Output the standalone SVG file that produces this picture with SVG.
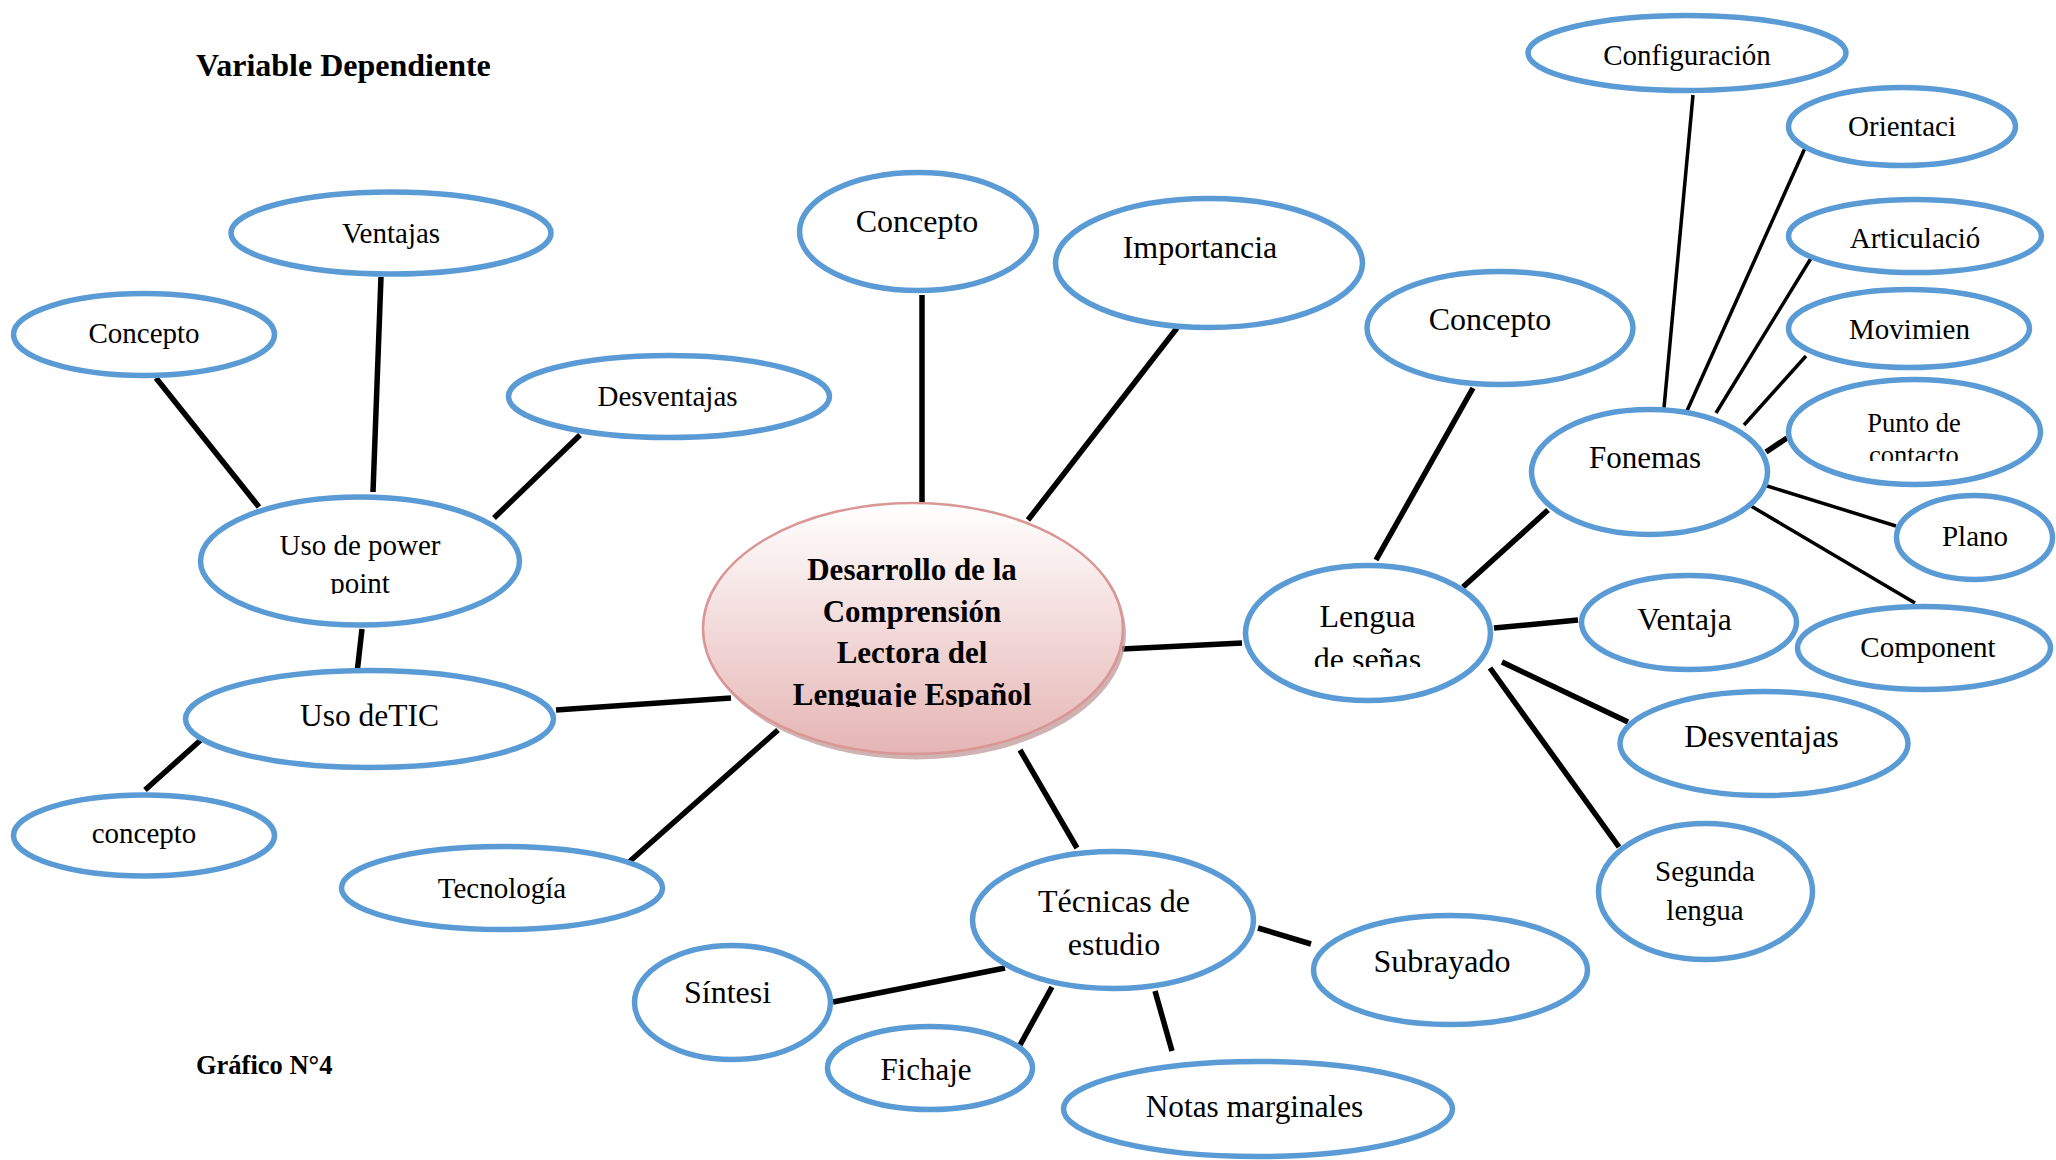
<svg xmlns="http://www.w3.org/2000/svg" width="2056" height="1160" viewBox="0 0 2056 1160">
<defs>
<style>
.n{fill:#ffffff;stroke:#5b9bd5;stroke-width:5.5}
.t{font-family:"Liberation Serif","Times New Roman",serif;fill:#000;text-anchor:middle}
.s{font-size:29px}
.m{font-size:32px}
.b{font-weight:bold}
.c line{stroke:#000;stroke-width:5.5;stroke-linecap:butt}
.c line.th{stroke-width:3.5}
</style>
<linearGradient id="cg" x1="0" y1="0" x2="0" y2="1">
<stop offset="0" stop-color="#ffffff"/>
<stop offset="1" stop-color="#e5b5b4"/>
</linearGradient>
<clipPath id="clipPoint"><rect x="200" y="500" width="320" height="94"/></clipPath>
<clipPath id="clipCenter"><rect x="705" y="505" width="420" height="202"/></clipPath>
<clipPath id="clipLengua"><rect x="1245" y="565" width="245" height="102"/></clipPath>
<clipPath id="clipPunto"><rect x="1790" y="380" width="250" height="81"/></clipPath>
</defs>
<rect width="2056" height="1160" fill="#ffffff"/>
<text class="t b" x="196" y="76" style="font-size:32px;text-anchor:start">Variable Dependiente</text>
<text class="t b" x="196" y="1074" style="font-size:26.5px;text-anchor:start">Gráfico N°4</text>
<g id="connectors" class="c">
<line x1="381" y1="277" x2="373" y2="492"/>
<line x1="156" y1="378" x2="259" y2="507"/>
<line x1="580" y1="435" x2="494" y2="518"/>
<line x1="362" y1="629" x2="357" y2="673"/>
<line x1="556" y1="710" x2="731" y2="698"/>
<line x1="203" y1="738" x2="145" y2="790"/>
<line x1="629" y1="862" x2="778" y2="730"/>
<line x1="922" y1="295" x2="922" y2="502"/>
<line x1="1177" y1="328" x2="1028" y2="520"/>
<line x1="1122" y1="649" x2="1242" y2="643"/>
<line x1="1020" y1="750" x2="1077" y2="848"/>
<line x1="1473" y1="388" x2="1376" y2="560"/>
<line x1="1463" y1="587" x2="1548" y2="510"/>
<line x1="1494" y1="628" x2="1578" y2="620"/>
<line x1="1502" y1="662" x2="1628" y2="722"/>
<line x1="1490" y1="668" x2="1619" y2="847"/>
<line class="th" x1="1693" y1="95" x2="1664" y2="408"/>
<line class="th" x1="1805" y1="148" x2="1686" y2="413"/>
<line class="th" x1="1813" y1="255" x2="1716" y2="413"/>
<line class="th" x1="1806" y1="356" x2="1744" y2="425"/>
<line x1="1766" y1="452" x2="1787" y2="438"/>
<line class="th" x1="1764" y1="485" x2="1896" y2="526"/>
<line class="th" x1="1751" y1="506" x2="1915" y2="603"/>
<line x1="833" y1="1002" x2="1005" y2="968"/>
<line x1="1020" y1="1045" x2="1052" y2="987"/>
<line x1="1155" y1="991" x2="1172" y2="1051"/>
<line x1="1258" y1="928" x2="1311" y2="944"/>
</g>
<g id="n-ventajas"><ellipse class="n" cx="391" cy="233" rx="160" ry="41"/><text class="t s" x="391" y="243">Ventajas</text></g>
<g id="n-concepto-l"><ellipse class="n" cx="144" cy="334.5" rx="130.5" ry="41"/><text class="t s" x="144" y="343">Concepto</text></g>
<g id="n-desventajas-l"><ellipse class="n" cx="669" cy="396.5" rx="160.5" ry="41"/><text class="t s" x="667.5" y="406">Desventajas</text></g>
<g id="n-power"><ellipse class="n" cx="360" cy="561" rx="159.5" ry="64"/><text class="t s" x="360" y="555">Uso de power</text><text class="t s" x="360" y="593" clip-path="url(#clipPoint)">point</text></g>
<g id="n-tic"><ellipse class="n" cx="369.5" cy="719" rx="184" ry="48.5"/><text class="t" style="font-size:31.5px" x="369.5" y="726">Uso deTIC</text></g>
<g id="n-concepto-b"><ellipse class="n" cx="144" cy="835.5" rx="130.5" ry="40.5"/><text class="t s" x="144" y="843">concepto</text></g>
<g id="n-tecnologia"><ellipse class="n" cx="502" cy="888" rx="160.5" ry="41.5"/><text class="t s" x="502" y="898">Tecnología</text></g>
<g id="n-center">
<ellipse cx="916" cy="634" rx="210" ry="125.5" fill="#bf9a9a" opacity="0.75"/>
<ellipse cx="913" cy="628.5" rx="210" ry="125.5" fill="url(#cg)" stroke="#d99694" stroke-width="2.5"/>
<g clip-path="url(#clipCenter)">
<text class="t b" style="font-size:31px" x="912" y="580">Desarrollo de la</text>
<text class="t b" style="font-size:31px" x="912" y="621.5">Comprensión</text>
<text class="t b" style="font-size:31px" x="912" y="663">Lectora del</text>
<text class="t b" style="font-size:31px" x="912" y="705">Lenguaje Español</text>
</g>
</g>
<g id="n-concepto-t"><ellipse class="n" cx="918" cy="231.5" rx="118.5" ry="59"/><text class="t m" x="917" y="232">Concepto</text></g>
<g id="n-importancia"><ellipse class="n" cx="1209" cy="263" rx="153.5" ry="64.5"/><text class="t m" x="1200" y="258">Importancia</text></g>
<g id="n-lengua"><ellipse class="n" cx="1368" cy="633" rx="122.5" ry="67.5"/><text class="t m" x="1367.5" y="627">Lengua</text><text class="t m" x="1367.5" y="670" clip-path="url(#clipLengua)">de señas</text></g>
<g id="n-concepto-r"><ellipse class="n" cx="1500" cy="328" rx="133" ry="56.5"/><text class="t m" x="1490" y="330">Concepto</text></g>
<g id="n-configuracion"><ellipse class="n" cx="1687" cy="53" rx="159" ry="37.5"/><text class="t s" x="1687" y="65">Configuración</text></g>
<g id="n-orientaci"><ellipse class="n" cx="1902" cy="126.5" rx="113.5" ry="39"/><text class="t s" x="1902" y="136">Orientaci</text></g>
<g id="n-articulacio"><ellipse class="n" cx="1915" cy="236" rx="126.5" ry="36.5"/><text class="t s" x="1915" y="248">Articulació</text></g>
<g id="n-movimien"><ellipse class="n" cx="1909" cy="328.5" rx="120.5" ry="39"/><text class="t s" x="1909.5" y="339">Movimien</text></g>
<g id="n-fonemas"><ellipse class="n" cx="1649.5" cy="472" rx="118" ry="62.5"/><text class="t" style="font-size:31px" x="1645" y="468">Fonemas</text></g>
<g id="n-punto"><ellipse class="n" cx="1914.5" cy="432" rx="126" ry="52.5"/><text class="t" style="font-size:26.5px" x="1914" y="432">Punto de</text><text class="t" style="font-size:26.5px" x="1914" y="464" clip-path="url(#clipPunto)">contacto</text></g>
<g id="n-plano"><ellipse class="n" cx="1974.5" cy="537.5" rx="78" ry="42"/><text class="t s" x="1975" y="546">Plano</text></g>
<g id="n-component"><ellipse class="n" cx="1924" cy="648" rx="126.5" ry="41.5"/><text class="t s" x="1928" y="657">Component</text></g>
<g id="n-ventaja"><ellipse class="n" cx="1689" cy="622.5" rx="107.5" ry="47"/><text class="t" style="font-size:31.5px" x="1684.5" y="630">Ventaja</text></g>
<g id="n-desventajas-r"><ellipse class="n" cx="1764" cy="743.5" rx="144" ry="52"/><text class="t m" x="1761.5" y="747">Desventajas</text></g>
<g id="n-segunda"><ellipse class="n" cx="1705.5" cy="891.5" rx="107" ry="68"/><text class="t s" x="1705" y="881">Segunda</text><text class="t s" x="1705" y="920">lengua</text></g>
<g id="n-tecnicas"><ellipse class="n" cx="1113" cy="920" rx="140.5" ry="68.5"/><text class="t m" x="1114" y="912">Técnicas de</text><text class="t m" x="1114" y="955">estudio</text></g>
<g id="n-sintesi"><ellipse class="n" cx="732.5" cy="1002.5" rx="98" ry="57"/><text class="t m" x="727.5" y="1003">Síntesi</text></g>
<g id="n-fichaje"><ellipse class="n" cx="930" cy="1068" rx="102.5" ry="41.5"/><text class="t" style="font-size:31px" x="926" y="1080">Fichaje</text></g>
<g id="n-notas"><ellipse class="n" cx="1258" cy="1109" rx="194.5" ry="47.5"/><text class="t" style="font-size:31.3px" x="1254.5" y="1117">Notas marginales</text></g>
<g id="n-subrayado"><ellipse class="n" cx="1450.5" cy="970" rx="137" ry="54.5"/><text class="t m" x="1442" y="972">Subrayado</text></g>
</svg>
